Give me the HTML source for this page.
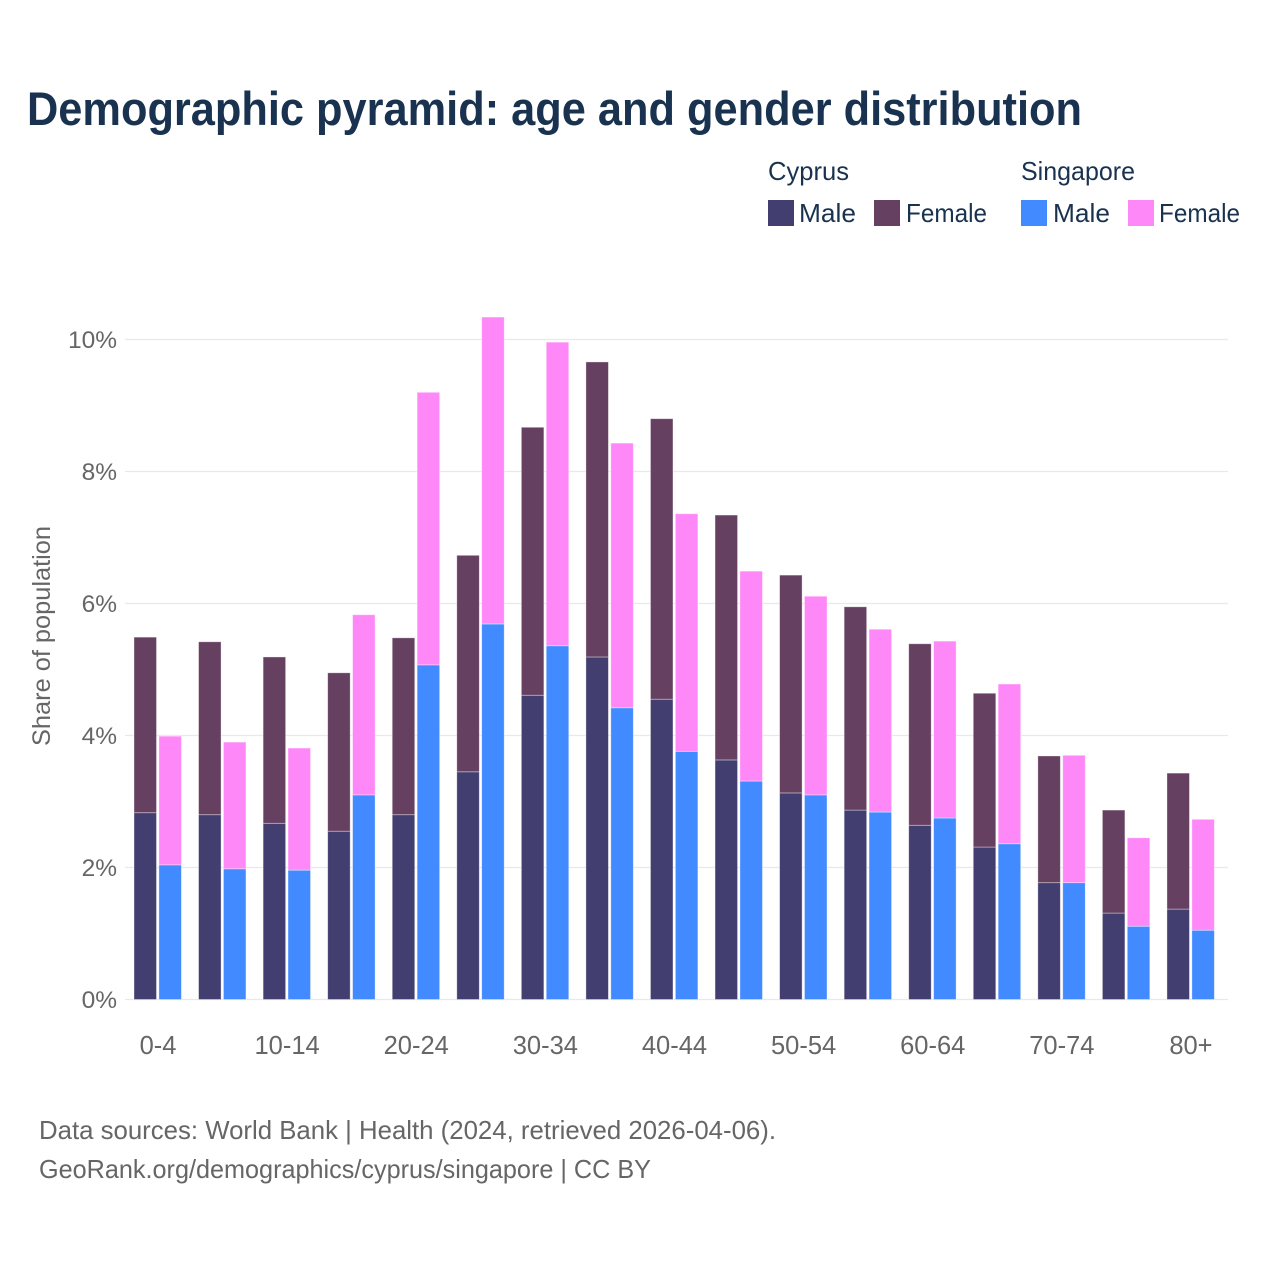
<!DOCTYPE html>
<html lang="en">
<head>
<meta charset="utf-8">
<title>Demographic pyramid</title>
<style>
html,body{margin:0;padding:0;background:#fff;width:1280px;height:1280px;overflow:hidden}
svg{display:block}
text{font-family:"Liberation Sans",sans-serif}
</style>
</head>
<body>
<svg id="chart" xmlns="http://www.w3.org/2000/svg" width="1280" height="1280" viewBox="0 0 1280 1280">
  <rect x="0" y="0" width="1280" height="1280" fill="#fff"/>
  <text x="27" y="125" font-size="47" font-weight="700" fill="#19324f" textLength="1055" lengthAdjust="spacingAndGlyphs">Demographic pyramid: age and gender distribution</text>

  <g font-size="26" fill="#19324f">
    <text x="768" y="180" textLength="81" lengthAdjust="spacingAndGlyphs">Cyprus</text>
    <text x="1021" y="180" textLength="114" lengthAdjust="spacingAndGlyphs">Singapore</text>
    <rect x="768" y="200" width="26" height="26" fill="#423f70"/>
    <text x="799" y="222" textLength="57" lengthAdjust="spacingAndGlyphs">Male</text>
    <rect x="874" y="200" width="26" height="26" fill="#664061"/>
    <text x="906" y="222" textLength="81" lengthAdjust="spacingAndGlyphs">Female</text>
    <rect x="1021" y="200" width="26" height="26" fill="#428aff"/>
    <text x="1053" y="222" textLength="57" lengthAdjust="spacingAndGlyphs">Male</text>
    <rect x="1128" y="200" width="26" height="26" fill="#ff88f8"/>
    <text x="1159" y="222" textLength="81" lengthAdjust="spacingAndGlyphs">Female</text>
  </g>

  <g id="grid"></g>
  <g id="bars"></g>
  <g id="x-labels"></g>
  <g id="y-labels"></g>

  <text transform="translate(50,636) rotate(-90)" text-anchor="middle" font-size="25" fill="#666" textLength="220" lengthAdjust="spacingAndGlyphs">Share of population</text>

  <text x="39" y="1139" font-size="26" fill="#666" textLength="737" lengthAdjust="spacingAndGlyphs">Data sources: World Bank | Health (2024, retrieved 2026-04-06).</text>
  <text x="39" y="1178" font-size="26" fill="#666" textLength="612" lengthAdjust="spacingAndGlyphs">GeoRank.org/demographics/cyprus/singapore | CC BY</text>
</svg>
<script>
const categories = ["0-4","5-9","10-14","15-19","20-24","25-29","30-34","35-39","40-44","45-49","50-54","55-59","60-64","65-69","70-74","75-79","80+"];
const cyprusMale = [2.83,2.80,2.67,2.55,2.80,3.45,4.61,5.19,4.55,3.63,3.13,2.87,2.64,2.31,1.77,1.31,1.37];
const cyprusFemale = [2.66,2.62,2.52,2.40,2.68,3.28,4.06,4.47,4.25,3.71,3.30,3.08,2.75,2.33,1.92,1.56,2.06];
const singaporeMale = [2.04,1.98,1.96,3.10,5.07,5.69,5.36,4.42,3.76,3.31,3.10,2.84,2.75,2.36,1.77,1.11,1.05];
const singaporeFemale = [1.95,1.92,1.85,2.73,4.13,4.65,4.60,4.01,3.60,3.18,3.01,2.77,2.68,2.42,1.93,1.34,1.68];
const yTicks = [0,2,4,6,8,10];

const NS = "http://www.w3.org/2000/svg";
const xCenter = function (i) { return 158 + i * 64.56; };
const yScale = function (v) { return 999.5 - v * 66; };
const gridG = document.getElementById("grid");
const barsG = document.getElementById("bars");
const xG = document.getElementById("x-labels");
const yG = document.getElementById("y-labels");
const BAR_W = 22.5;

yTicks.forEach(function (t) {
  const line = document.createElementNS(NS, "line");
  
  
  line.setAttribute("x1", 125);
  line.setAttribute("x2", 1228);
  line.setAttribute("y1", yScale(t));
  line.setAttribute("y2", yScale(t));
  line.setAttribute("stroke", "#e9e9ec");
  line.setAttribute("stroke-width", 1.3);
  gridG.appendChild(line);

  const label = document.createElementNS(NS, "text");
  
  
  label.setAttribute("x", 117);
  label.setAttribute("y", yScale(t) + 8.5);
  label.setAttribute("text-anchor", "end");
  label.setAttribute("font-size", 24.5);
  label.setAttribute("fill", "#666");
  label.textContent = t + "%";
  yG.appendChild(label);
});

function addBar(x, v0, v1, color) {
  const r = document.createElementNS(NS, "rect");
  
  
  r.setAttribute("x", x);
  r.setAttribute("y", yScale(v1));
  r.setAttribute("width", BAR_W);
  r.setAttribute("height", yScale(v0) - yScale(v1));
  r.setAttribute("fill", color);
  r.setAttribute("stroke", "#fff");
  r.setAttribute("stroke-opacity", "0.45");
  r.setAttribute("stroke-width", 0.8);
  barsG.appendChild(r);
}

categories.forEach(function (c, i) {
  const cx = xCenter(i);
  const cyTotal = cyprusMale[i] + cyprusFemale[i];
  const sgTotal = singaporeMale[i] + singaporeFemale[i];
  addBar(cx - 24, 0, cyprusMale[i], "#423f70");
  addBar(cx - 24, cyprusMale[i], cyTotal, "#664061");
  addBar(cx + 0.9, 0, singaporeMale[i], "#428aff");
  addBar(cx + 0.9, singaporeMale[i], sgTotal, "#ff88f8");

  if (i % 2 === 0) {
    const label = document.createElementNS(NS, "text");
    
    
    label.setAttribute("x", cx);
    label.setAttribute("y", 1054);
    label.setAttribute("text-anchor", "middle");
    label.setAttribute("font-size", 25.5);
    label.setAttribute("fill", "#666");
    label.textContent = c;
    xG.appendChild(label);
  }
});
</script>
</body>
</html>
